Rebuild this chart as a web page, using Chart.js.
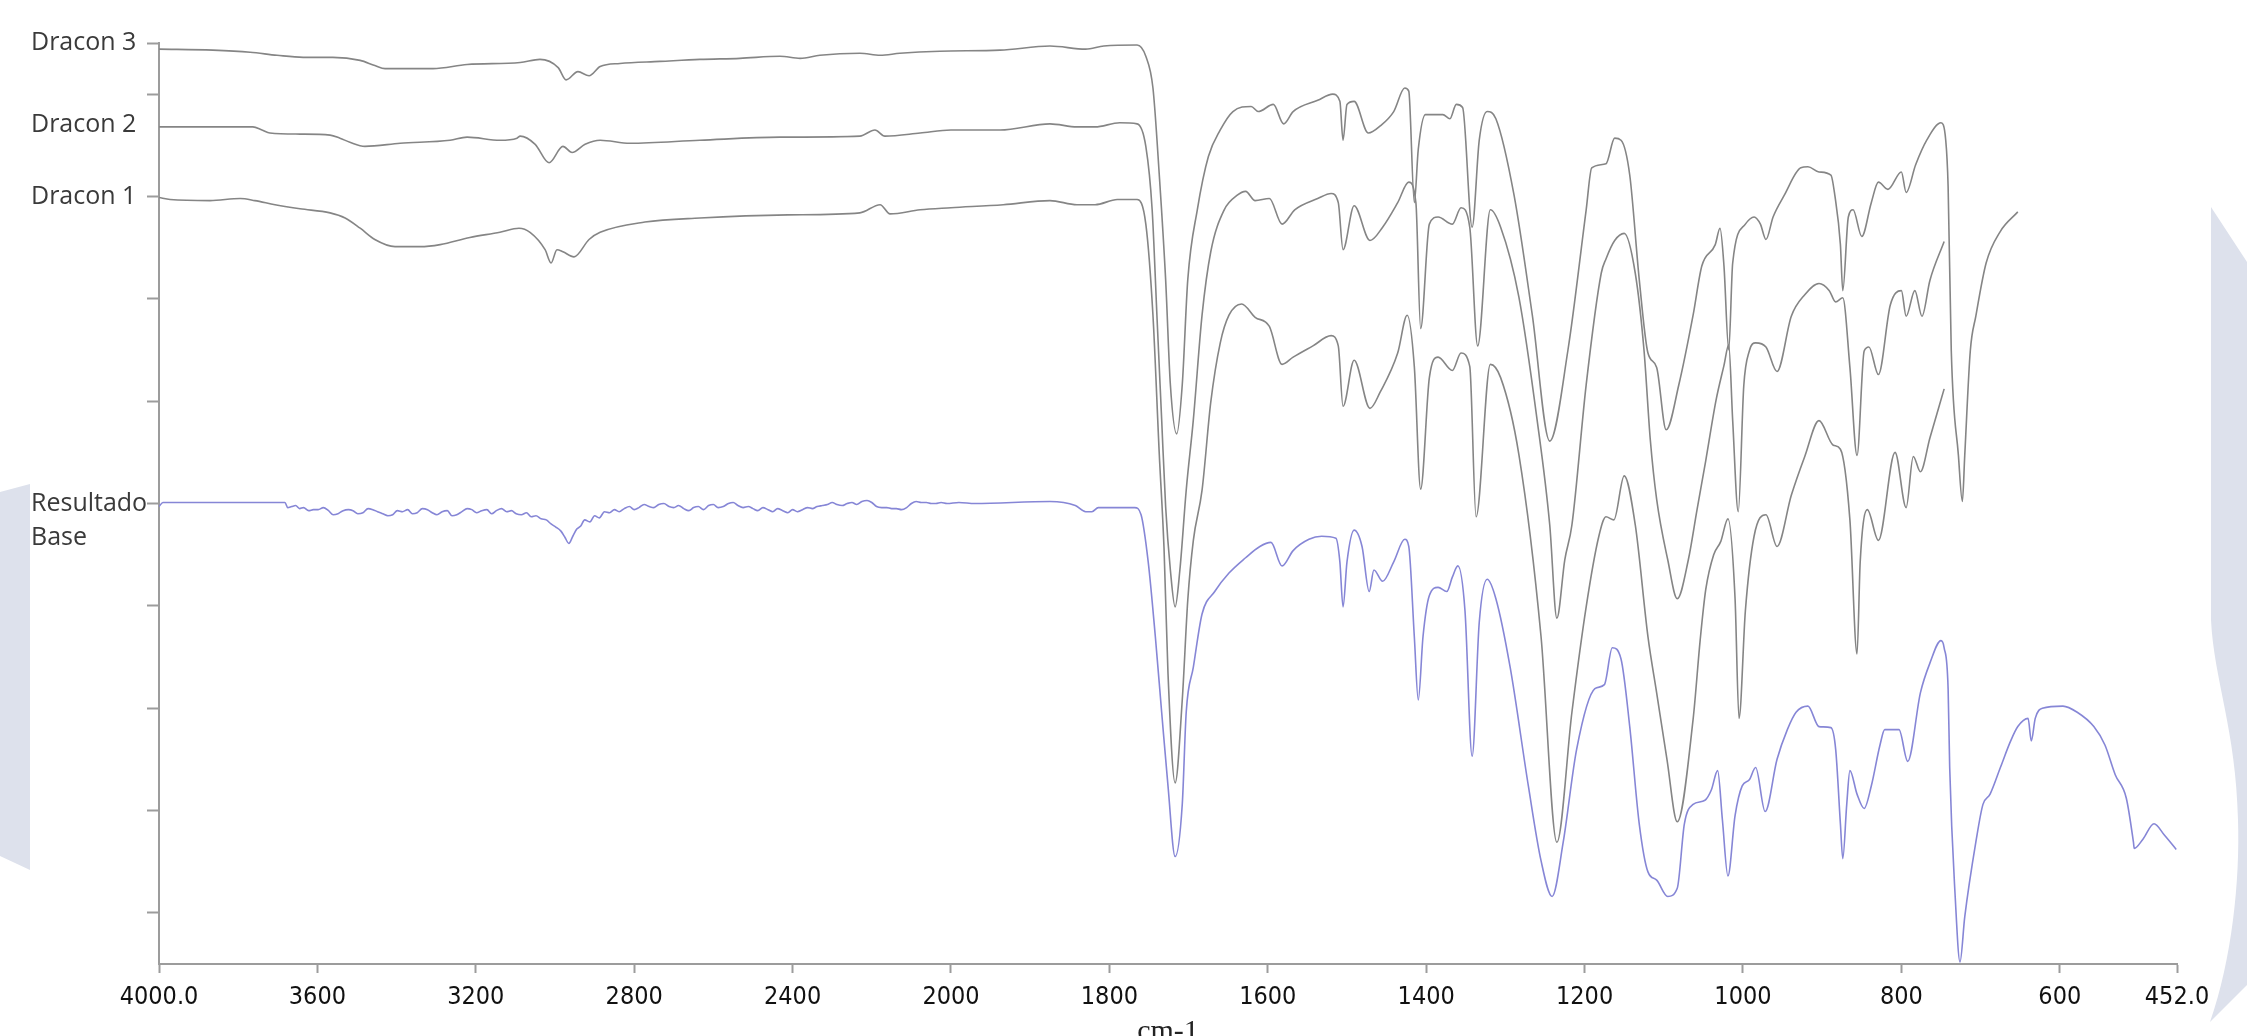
<!DOCTYPE html>
<html>
<head>
<meta charset="utf-8">
<script src="https://cdn.jsdelivr.net/npm/chart.js@4/dist/chart.umd.min.js"></script>
<style>
html,body{margin:0;padding:0;background:#fff;overflow:hidden}
#c{display:block}
</style>
</head>
<body>
<canvas id="c" width="2247" height="1036"></canvas>
<script>
// ---------- axis definitions ----------
const xTicks = [4000,3600,3200,2800,2400,2000,1800,1600,1400,1200,1000,800,600,452];
const xBreak = 2000;            // scale changes at 2000 cm-1
const yTicks = [0,10,20,30,36.6,40,50,60,70,77,80,85];
const yTickLabels = {85:'Dracon 3', 77:'Dracon 2', 70:'Dracon 1', 40:'Resultado', 36.6:'Base'};
const yNoMark = [77, 36.6];
const xTitle = 'cm-1';

// ---------- series ----------
const dracon3Wn = [4000,3864,3770,3702,3636,3561,3492,3455,3429,3308,3222,3088,3038,2992,2972,2942,2914,2886,2836,2735,2634,2533,2432,2381,2331,2230,2179,2129,2028,1938,1875,1830,1807,1765,1754,1745,1737,1729,1723,1715,1708,1701,1689,1675,1660,1644,1621,1612,1593,1580,1568,1537,1518,1509,1505,1500,1491,1473,1458,1441,1427,1422,1415,1410,1401,1379,1370,1362,1354,1342,1333,1323,1312,1289,1266,1244,1221,1198,1191,1173,1162,1154,1143,1131,1120,1109,1097,1081,1063,1052,1035,1029,1024,1018,1013,997,986,978,971,962,948,927,918,904,889,884,877,874,867,861,850,838,829,817,800,794,782,768,750,744,741,737,728,723,720,713,706,693,675,653];
const dracon3T = [84.4,84.3,84.1,83.8,83.6,83.6,83.3,82.8,82.5,82.5,82.9,83.1,83.4,82.6,81.4,82.2,81.8,82.7,83.0,83.2,83.4,83.5,83.7,83.5,83.8,84.0,83.8,84.0,84.2,84.3,84.7,84.4,84.7,84.8,83.7,80.6,72.1,61.9,51.6,46.8,51.6,61.9,68.7,73.9,76.5,78.3,78.8,78.3,79.0,77.1,78.3,79.4,80.0,79.3,75.5,79.0,79.3,76.2,76.9,78.3,80.6,80.3,69.4,74.6,78.0,78.0,77.6,79.0,78.7,67.0,75.5,78.3,77.6,70.1,58.4,46.1,55.0,68.7,72.8,73.2,75.7,75.5,72.1,61.9,54.7,53.3,47.2,51.6,58.4,63.2,65.3,66.9,63.2,55.0,63.5,67.3,68.0,67.3,65.8,68.0,70.1,72.8,72.9,72.4,72.1,70.1,65.3,60.8,68.0,68.7,66.1,69.4,71.4,70.7,72.4,70.4,73.1,75.5,77.2,75.5,71.0,54.9,44.7,40.2,44.7,54.9,58.3,63.5,66.6,68.5];

const dracon2Wn = [4000,3763,3740,3720,3644,3568,3543,3518,3480,3391,3265,3222,3139,3096,3088,3050,3015,2980,2957,2924,2886,2811,2634,2432,2230,2192,2167,2078,2000,1938,1875,1841,1818,1787,1765,1754,1746,1740,1734,1729,1723,1717,1711,1703,1694,1683,1672,1655,1639,1628,1616,1598,1582,1566,1537,1520,1511,1505,1491,1471,1455,1436,1422,1413,1407,1396,1385,1367,1356,1345,1335,1319,1306,1283,1260,1244,1235,1225,1216,1198,1179,1173,1162,1150,1136,1125,1117,1109,1095,1083,1069,1058,1047,1034,1024,1018,1013,1006,999,992,984,971,957,939,922,904,891,883,874,865,856,847,841,829,814,800,794,783,774,764,746];
const dracon2T = [76.8,76.8,76.5,76.2,76.1,76.0,75.7,75.3,74.9,75.2,75.5,75.8,75.5,75.7,75.9,75.1,73.3,74.9,74.3,75.1,75.5,75.2,75.5,75.8,75.9,76.5,75.9,76.2,76.5,76.5,77.1,76.8,76.8,77.2,77.1,74.9,68.7,58.4,48.2,39.7,33.5,29.9,33.5,41.3,48.2,58.4,64.6,68.7,70.1,70.5,69.6,69.8,67.3,68.7,69.8,70.3,69.4,64.8,69.1,65.7,67.0,69.4,71.4,69.4,57.1,67.3,68.0,67.3,68.9,67.0,55.4,68.7,67.0,60.2,48.2,37.9,28.8,34.5,37.9,51.6,62.5,63.9,65.7,66.4,62.5,55.0,46.2,40.4,34.5,30.7,34.5,39.4,44.2,50.1,53.5,55.5,48.1,39.2,51.5,54.9,55.7,55.3,52.9,58.3,60.4,61.5,60.8,59.7,60.1,53.3,44.7,54.9,55.3,52.6,59.4,60.8,58.3,60.8,58.3,61.8,65.6];

const dracon1Wn = [4000,3972,3871,3795,3758,3707,3644,3568,3530,3492,3455,3404,3341,3290,3215,3139,3091,3063,3025,3010,2995,2980,2952,2914,2886,2773,2634,2412,2230,2179,2154,2078,2000,1934,1875,1841,1818,1790,1765,1754,1745,1737,1731,1726,1717,1708,1701,1694,1683,1672,1660,1649,1633,1616,1598,1582,1568,1543,1520,1511,1505,1491,1471,1458,1436,1424,1415,1407,1396,1385,1367,1356,1345,1337,1319,1306,1283,1255,1235,1216,1198,1182,1173,1163,1150,1136,1120,1109,1096,1083,1063,1054,1047,1037,1028,1019,1010,1005,997,986,971,957,939,922,904,886,877,865,856,852,843,829,808,794,785,776,764,746];
const dracon1T = [69.9,69.7,69.6,69.8,69.6,69.2,68.8,68.4,67.9,66.9,65.8,65.1,65.1,65.3,66.0,66.5,66.9,66.5,64.8,63.5,64.8,64.6,64.1,65.8,66.5,67.5,67.9,68.2,68.4,69.2,68.3,68.7,68.9,69.2,69.6,69.2,69.2,69.7,69.7,67.3,58.4,44.8,35.6,23.4,12.7,20.8,30.6,36.4,41.3,49.9,55.7,58.4,59.5,58.2,57.3,53.6,54.3,55.4,56.4,55.4,49.5,54.0,49.3,50.9,54.7,58.4,53.4,41.4,52.3,54.3,53.0,54.7,53.4,38.7,53.6,52.3,44.8,27.0,6.9,19.6,29.9,36.8,38.7,38.4,42.7,37.9,27.0,21.5,15.0,8.9,18.9,26.7,31.6,35.0,36.3,38.5,30.7,19.0,29.5,36.8,38.9,35.8,40.8,44.6,48.1,45.7,45.3,38.4,25.3,34.3,39.4,36.4,45.0,39.6,44.6,43.1,46.4,51.2];

const baseWn = [4000,3990,3682,3675,3665,3655,3645,3635,3622,3610,3598,3585,3572,3560,3548,3535,3522,3510,3498,3485,3472,3460,3448,3435,3422,3410,3398,3385,3372,3360,3348,3335,3322,3310,3298,3285,3272,3260,3248,3235,3222,3210,3198,3185,3172,3160,3148,3135,3122,3110,3098,3085,3072,3060,3048,3035,3022,3010,2998,2985,2975,2965,2955,2945,2935,2925,2912,2900,2888,2875,2862,2850,2838,2825,2812,2800,2788,2775,2762,2750,2738,2725,2712,2700,2688,2675,2662,2650,2638,2625,2612,2600,2588,2575,2562,2550,2538,2525,2512,2500,2488,2475,2462,2450,2438,2425,2412,2400,2388,2375,2362,2350,2338,2325,2312,2300,2288,2275,2262,2250,2238,2225,2212,2200,2188,2175,2162,2150,2138,2125,2112,2100,2088,2075,2062,2050,2038,2025,2010,1990,1970,1875,1843,1830,1822,1814,1768,1760,1751,1742,1734,1726,1717,1708,1703,1694,1683,1667,1649,1628,1610,1596,1582,1568,1548,1532,1514,1509,1505,1500,1491,1481,1472,1466,1455,1441,1427,1422,1415,1410,1404,1396,1385,1374,1367,1360,1351,1342,1333,1323,1312,1294,1271,1255,1241,1227,1210,1187,1175,1165,1154,1143,1131,1120,1109,1095,1083,1074,1063,1048,1040,1032,1026,1019,1010,1001,992,984,972,957,944,933,918,904,889,883,877,874,869,865,856,847,838,827,821,803,792,776,764,750,746,741,739,732,726,720,706,697,688,675,662,653,640,636,631,622,596,578,557,543,530,516,507,506,495,481,468,453];
const baseT = [39.7,40.1,
  40.1,39.6,39.7,39.8,39.5,39.6,39.3,39.4,39.4,39.6,
  39.3,38.9,39.0,39.3,39.4,39.3,39.0,39.1,39.5,39.4,
  39.2,39.0,38.8,38.9,39.3,39.2,39.4,39.0,39.1,39.5,
  39.4,39.1,38.9,39.2,39.3,38.8,38.9,39.2,39.5,39.4,
  39.1,39.3,39.4,39.0,39.3,39.5,39.2,39.3,39.0,38.9,
  39.1,38.7,38.8,38.5,38.4,38.0,37.7,37.3,36.7,36.1,
  36.8,37.5,37.8,38.4,38.2,38.8,38.6,39.2,39.1,39.4,
  39.2,39.5,39.7,39.4,39.6,39.9,39.7,39.6,39.9,40.0,
  39.7,39.6,39.8,39.5,39.3,39.6,39.7,39.4,39.8,39.9,
  39.6,39.7,40.0,40.1,39.8,39.6,39.7,39.5,39.3,39.6,
  39.4,39.2,39.5,39.3,39.1,39.4,39.2,39.4,39.6,39.5,
  39.7,39.8,39.9,40.1,39.9,39.8,40.0,40.1,39.9,40.2,
  40.3,40.1,39.7,39.6,39.6,39.5,39.5,39.4,39.6,40.0,
  40.2,40.1,40.1,40.0,40.0,40.1,40.0,
  40.1,40.0,40.2,39.8,39.2,39.2,39.6,39.6,38.9,34.3,27.0,19.6,12.4,5.5,10.6,19.6,24.0,29.2,31.4,33.2,34.7,35.8,36.2,33.9,35.4,36.5,36.8,36.6,34.3,29.9,34.3,37.4,35.8,31.4,33.5,32.4,34.3,36.5,35.8,27.0,20.8,27.0,31.0,31.8,31.4,32.8,33.9,29.5,15.3,28.4,32.6,30.7,24.0,12.4,5.1,1.6,6.9,16.0,21.9,22.3,25.9,24.8,18.2,8.7,4.0,3.2,1.6,2.4,8.7,10.6,11.0,12.0,13.9,9.1,3.6,9.5,12.4,13.0,14.2,9.9,15.0,17.9,19.6,20.2,18.2,18.1,16.0,8.7,5.3,10.6,13.9,11.6,10.2,12.4,16.4,17.9,17.9,14.8,21.5,24.4,26.6,25.9,21.9,14.2,1.5,-4.8,-0.4,6.9,10.6,11.6,14.2,16.8,18.2,19.0,16.8,19.0,20.0,20.2,19.6,18.2,16.4,13.5,11.2,6.9,6.3,7.2,8.7,7.6,6.2];

// ---------- custom wavenumber scale (2:1 expansion below 2000 cm-1) ----------
class BrokenWavenumberScale extends Chart.LinearScale {
  _f1() {
    const wHi = (this.max - xBreak) / 2, wLo = (xBreak - this.min);
    return wHi / (wHi + wLo);
  }
  _frac(v) {
    const f1 = this._f1();
    if (v >= xBreak) return (this.max - v) / (this.max - xBreak) * f1;
    return f1 + (xBreak - v) / (xBreak - this.min) * (1 - f1);
  }
  buildTicks() { return xTicks.map(v => ({value: v})); }
  getPixelForValue(v) {
    if (v === null || v === undefined || isNaN(v)) return NaN;
    return this.left + this._frac(v) * this.width;
  }
  getValueForPixel(p) {
    const f1 = this._f1();
    const f = (p - this.left) / this.width;
    if (f <= f1) return this.max - f / f1 * (this.max - xBreak);
    return xBreak - (f - f1) / (1 - f1) * (xBreak - this.min);
  }
}
BrokenWavenumberScale.id = 'brokenWavenumber';
BrokenWavenumberScale.defaults = Chart.LinearScale.defaults;
Chart.register(BrokenWavenumberScale);

function pts(wn, val) {
  const n = Math.min(wn.length, val.length);
  const out = [];
  for (let i = 0; i < n; i++) out.push({x: wn[i], y: val[i]});
  return out;
}

const GRAY = '#858585';
const BLUE = '#8686d6';
const AXIS = '#9c9c9c';

const bgPlugin = {
  id: 'bgShapes',
  beforeDraw(chart) {
    const ctx = chart.ctx;
    ctx.save();
    ctx.fillStyle = '#ffffff';
    ctx.fillRect(0, 0, chart.width, chart.height);
    ctx.fillStyle = '#dde1ec';
    ctx.beginPath();
    ctx.moveTo(0, 492); ctx.lineTo(30, 484); ctx.lineTo(30, 870); ctx.lineTo(0, 856);
    ctx.closePath(); ctx.fill();
    ctx.beginPath();
    ctx.moveTo(2211, 207); ctx.lineTo(2247, 262); ctx.lineTo(2247, 985);
    ctx.lineTo(2210, 1022);
    ctx.bezierCurveTo(2232, 960, 2240, 880, 2238, 820);
    ctx.bezierCurveTo(2236, 730, 2214, 680, 2211, 620);
    ctx.closePath(); ctx.fill();
    ctx.restore();
  }
};

const lineStyle = {pointRadius: 0, borderWidth: 1.6, fill: false, cubicInterpolationMode: 'monotone'};

new Chart(document.getElementById('c'), {
  type: 'line',
  data: {
    datasets: [
      Object.assign({label: 'Dracon 3', data: pts(dracon3Wn, dracon3T), borderColor: GRAY}, lineStyle),
      Object.assign({label: 'Dracon 2', data: pts(dracon2Wn, dracon2T), borderColor: GRAY}, lineStyle),
      Object.assign({label: 'Dracon 1', data: pts(dracon1Wn, dracon1T), borderColor: GRAY}, lineStyle),
      Object.assign({label: 'Resultado Base', data: pts(baseWn, baseT), borderColor: BLUE}, lineStyle)
    ]
  },
  options: {
    responsive: false,
    devicePixelRatio: 1,
    animation: false,
    layout: {padding: {left: 31, top: 43, right: 70, bottom: -12}},
    plugins: {legend: {display: false}, tooltip: {enabled: false}},
    scales: {
      x: {
        type: 'brokenWavenumber',
        min: 452, max: 4000,
        grid: {drawOnChartArea: false, tickLength: 9, tickColor: AXIS, tickWidth: 2},
        border: {display: true, color: AXIS, width: 2},
        ticks: {
          autoSkip: false, maxRotation: 0, padding: 9,
          font: {family: 'DejaVu Sans Condensed', size: 25},
          color: '#111',
          callback: (v) => (v === 4000 || v === 452) ? Number(v).toFixed(1) : String(v)
        },
        title: {display: true, text: xTitle, font: {family: 'Liberation Serif', size: 30}, color: '#222', padding: {top: 0, bottom: -2}},
        afterFit: (s) => { s.height = 84; }
      },
      y: {
        type: 'linear',
        min: -5, max: 85,
        afterBuildTicks: (s) => { s.ticks = yTicks.map(v => ({value: v})); },
        grid: {
          drawOnChartArea: false, tickLength: 12, tickWidth: 2,
          tickColor: (ctx) => (ctx.tick && yNoMark.includes(ctx.tick.value)) ? 'rgba(0,0,0,0)' : AXIS
        },
        border: {display: true, color: AXIS, width: 2},
        ticks: {
          autoSkip: false, crossAlign: 'far',
          font: {family: 'Open Sans', size: 25},
          color: '#3a3a3a',
          callback: (v) => yTickLabels[v] || ''
        },
        afterFit: (s) => { s.width = 128; }
      }
    }
  },
  plugins: [bgPlugin]
});
</script>
</body>
</html>
